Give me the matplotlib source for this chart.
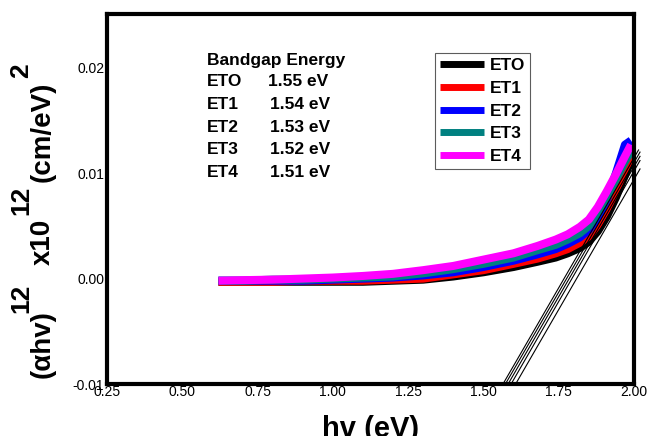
import numpy as np
import matplotlib.pyplot as plt

plt.rcParams['font.family'] = ['Liberation Sans', 'DejaVu Sans']

# photon energy (eV)
hv = [0.62, 0.70, 0.80, 0.90, 1.00, 1.10, 1.20, 1.30, 1.40, 1.50, 1.60,
	1.68, 1.74, 1.78, 1.82, 1.85, 1.88, 1.91, 1.94, 1.97, 1.99]

# values
y_eto = [-0.0003, -0.0003, -0.0003, -0.0003, -0.0003, -0.0003, -0.0002, -0.0001, 0.0002, 0.0006, 0.0011,
	0.0016, 0.0020, 0.0024, 0.0029, 0.0035, 0.0045, 0.0059, 0.0077, 0.0098, 0.0112]
y_et1 = [-0.0003, -0.0003, -0.0003, -0.0002, -0.0002, -0.0002, -0.0001, 0.0000, 0.0004, 0.0008, 0.0014,
	0.0019, 0.0024, 0.0028, 0.0034, 0.0040, 0.0051, 0.0066, 0.0084, 0.0104, 0.0116]
y_et2 = [-0.0002, -0.0002, -0.0002, -0.0002, -0.0001, 0.0000, 0.0001, 0.0003, 0.0006, 0.0011, 0.0017,
	0.0023, 0.0028, 0.0033, 0.0039, 0.0046, 0.0058, 0.0075, 0.0100, 0.0127, 0.0131]
y_et3 = [-0.0002, -0.0002, -0.0001, -0.0001, 0.0000, 0.0001, 0.0002, 0.0005, 0.0009, 0.0014, 0.0020,
	0.0027, 0.0032, 0.0037, 0.0043, 0.0050, 0.0062, 0.0077, 0.0094, 0.0111, 0.0121]
y_et4 = [-0.0002, -0.00015, -0.0001, 0.0000, 0.0001, 0.00025, 0.00045, 0.0008, 0.0012, 0.0018, 0.0024,
	0.0031, 0.0037, 0.0042, 0.0049, 0.0056, 0.0068, 0.0083, 0.0099, 0.0116, 0.0127]

names = ['ETO', 'ET1', 'ET2', 'ET3', 'ET4']
colors = ['black', '#ff0000', '#0000ff', '#008080', '#ff00ff']
gaps = ['1.55 eV', '1.54 eV', '1.53 eV', '1.52 eV', '1.51 eV']

# tangent lines: bottom x at y=-0.01, top end point
tan_x0 = [1.565, 1.573, 1.582, 1.592, 1.607]
tan_x1 = [2.015, 2.020, 2.020, 2.020, 2.020]
tan_y1 = [0.0122, 0.0120, 0.0116, 0.0112, 0.0104]

W, H = 647, 436
fig = plt.figure(figsize=(W / 100, H / 100), dpi=100)
ax = fig.add_axes([107 / W, 1 - 384 / H, 527 / W, 370 / H])

for ys, c, n in zip([y_eto, y_et1, y_et2, y_et3, y_et4], colors, names):
	ax.plot(hv, ys, color=c, lw=5.8, label=n, solid_capstyle='butt')

for x0, x1, y1 in zip(tan_x0, tan_x1, tan_y1):
	ax.plot([x0, x1], [-0.01, y1], color='black', lw=0.8, clip_on=False)

ax.set_xlim(0.25, 2.0)
ax.set_ylim(-0.01, 0.0251)
ax.set_xticks([0.25, 0.5, 0.75, 1.0, 1.25, 1.5, 1.75, 2.0])
ax.set_xticklabels(['0.25', '0.50', '0.75', '1.00', '1.25', '1.50', '1.75', '2.00'])
ax.set_yticks([-0.01, 0.0, 0.01, 0.02])
ax.set_yticklabels(['-0.01', '0.00', '0.01', '0.02'])
ax.tick_params(length=0, labelsize=10, pad=1)
ax.tick_params(axis='y', pad=2)
for sp in ax.spines.values():
	sp.set_linewidth(3)
	sp.set_zorder(5)

# axis titles
fig.text(371 / W, -1 / H, 'hv (eV)', fontsize=21, fontweight='bold', ha='center', va='baseline')
ylab = [('(\u03b1hv)', 20, 50, 378), ('12', 19, 28, 313), ('x10', 20, 50, 265),
	('12', 19, 28, 215), ('(cm/eV)', 20, 50, 182), ('2', 19, 28, 78)]
for s, fs, px, py in ylab:
	fig.text(px / W, 1 - py / H, s, fontsize=fs, fontweight='bold', rotation=90,
		rotation_mode='anchor', ha='left', va='baseline')

# bandgap table
fig.text(207 / W, 1 - 60 / H, 'Bandgap Energy', fontsize=12.5, fontweight='bold', va='center')
for i, (n, g) in enumerate(zip(names, gaps)):
	yy = 1 - (82 + 22.5 * i) / H
	fig.text(207 / W, yy, n, fontsize=12.5, fontweight='bold', va='center')
	fig.text((268 if i == 0 else 270) / W, yy, g, fontsize=12.5, fontweight='bold', va='center')

leg = ax.legend(loc='upper left', bbox_to_anchor=((435 - 107) / 527, 1 - (53 - 14) / 370),
	frameon=True, fancybox=False, prop={'weight': 'bold', 'size': 12.5}, handlelength=2.5,
	handletextpad=0.35, labelspacing=0.43, borderpad=0.3, borderaxespad=0)
leg.get_frame().set_edgecolor('#333333')
leg.get_frame().set_linewidth(0.8)
for line in leg.get_lines():
	line.set_linewidth(5)

fig.savefig('out.png', dpi=100)
